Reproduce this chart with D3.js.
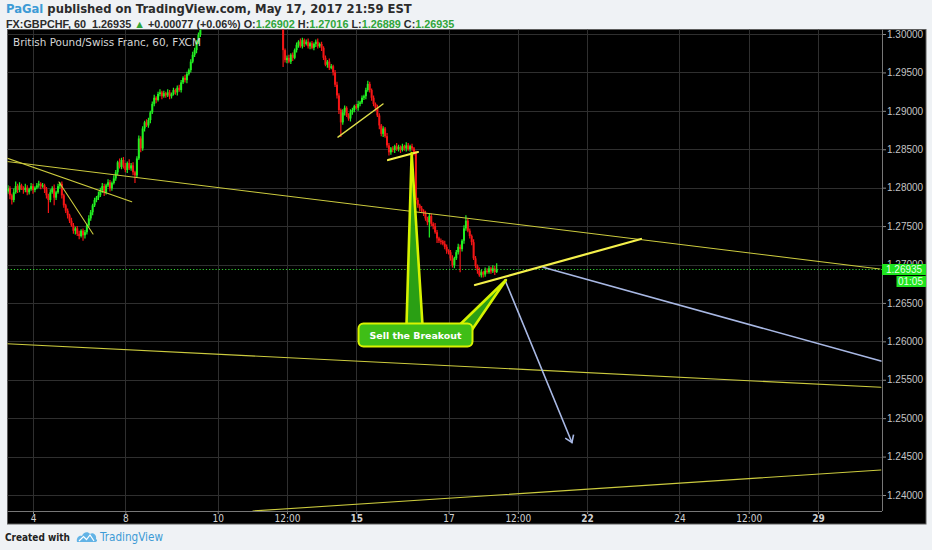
<!DOCTYPE html>
<html>
<head>
<meta charset="utf-8">
<script src="https://cdn.jsdelivr.net/npm/d3@7/dist/d3.min.js"></script>
<style>
html,body{margin:0;padding:0;background:#eff2f5;}
svg{display:block;}
text{white-space:pre;}
</style>
</head>
<body>
<svg id="chart" width="932" height="550"></svg>
<script>
// GBP/CHF, 60-minute bars. Hour 0 = May 4 00:00; only trading hours are counted (24 per weekday).
const firstHour = -13;
const firstOpen = 1.2795;
const closes = [
  1.2799,1.2790,1.2784,1.2794,1.2802,1.2797,1.2803,1.2799,1.2797,1.2800,
  1.2794,1.2798,1.2802,1.2797,1.2800,1.2803,1.2805,1.2802,1.2803,1.2798,
  1.2790,1.2784,1.2794,1.2799,1.2787,1.2794,1.2802,1.2805,1.2790,1.2777,
  1.2770,1.2764,1.2757,1.2751,1.2744,1.2747,1.2740,1.2737,1.2744,1.2738,
  1.2742,1.2751,1.2760,1.2768,1.2777,1.2784,1.2787,1.2790,1.2797,1.2802,
  1.2794,1.2803,1.2807,1.2799,1.2806,1.2812,1.2820,1.2833,1.2827,1.2836,
  1.2829,1.2823,1.2832,1.2825,1.2829,1.2820,1.2816,1.2838,1.2864,1.2851,
  1.2877,1.2885,1.2881,1.2888,1.2898,1.2909,1.2917,1.2914,1.2922,1.2924,
  1.2919,1.2923,1.2920,1.2924,1.2919,1.2922,1.2927,1.2924,1.2930,1.2927,
  1.2937,1.2943,1.2940,1.2948,1.2953,1.2964,1.2973,1.2979,1.2990,1.2999,
  1.3012,1.3018,1.3025,1.3031,1.3028,1.3036,1.3042,1.3047,1.3052,1.3058,
  1.3050,1.3055,1.3061,1.3066,1.3072,1.3069,1.3076,1.3073,1.3079,1.3082,
  1.3075,1.3070,1.3066,1.3072,1.3068,1.3061,1.3055,1.3062,1.3058,1.3050,
  1.3045,1.3052,1.3047,1.3040,1.3035,1.3030,1.3038,1.3032,1.3026,1.3021,
  1.3016,1.3012,1.3008,1.2979,1.2966,1.2969,1.2964,1.2973,1.2969,1.2979,
  1.2986,1.2990,1.2984,1.2992,1.2987,1.2990,1.2984,1.2988,1.2982,1.2987,
  1.2990,1.2984,1.2987,1.2982,1.2969,1.2960,1.2964,1.2956,1.2958,1.2950,
  1.2934,1.2920,1.2901,1.2885,1.2898,1.2904,1.2894,1.2890,1.2898,1.2901,
  1.2906,1.2904,1.2909,1.2911,1.2917,1.2919,1.2927,1.2935,1.2927,1.2917,
  1.2909,1.2904,1.2894,1.2881,1.2870,1.2877,1.2867,1.2855,1.2846,1.2851,
  1.2849,1.2854,1.2850,1.2853,1.2849,1.2854,1.2851,1.2855,1.2850,1.2854,
  1.2851,1.2846,1.2784,1.2777,1.2773,1.2770,1.2767,1.2760,1.2755,1.2763,
  1.2753,1.2750,1.2742,1.2734,1.2731,1.2730,1.2727,1.2723,1.2718,1.2716,
  1.2708,1.2699,1.2708,1.2716,1.2723,1.2720,1.2731,1.2747,1.2757,1.2744,
  1.2737,1.2729,1.2708,1.2698,1.2692,1.2686,1.2690,1.2687,1.2692,1.2690,
  1.2695,1.2691,1.2695,1.26902,1.26935
];
// wick lengths in pips, above and below each candle body
const wickUp = [
  4,3,2,5,6,3,4,2,3,5, 3,2,4,3,2,3,4,2,3,2, 3,2,4,3,5,2,3,2,3,2, 2,3,2,4,3,2,3,4,2,3,
  3,2,4,3,2,3,2,5,3,4, 3,2,4,3,2,4,3,2,5,3, 4,3,2,5,3,4,2,3,4,3, 3,2,4,3,2,3,4,2,3,4,
  2,3,2,4,3,2,3,2,3,4, 3,2,4,3,2,3,4,3,2,3, 3,4,2,3,4,3,2,3,4,2, 4,3,2,3,4,2,3,4,3,2,
  3,2,4,3,2,3,4,2,3,4, 2,3,4,3,2,4,3,2,3,4, 3,2,4,3,2,3,4,2,3,2, 3,2,4,3,2,3,4,2,3,2,
  3,4,2,3,2,3,2,4,3,2, 3,4,3,2,4,3,2,3,4,3, 2,3,4,2,3,2,3,4,3,2, 3,2,4,3,2,3,2,4,3,2,
  3,2,4,3,2,3,2,4,3,2, 3,2,2,3,2,3,2,3,2,4, 3,2,4,3,2,3,2,4,3,2, 3,4,2,3,4,3,2,4,7,3,
  3,2,4,3,2,4,3,2,4,3, 3,2,4,3,8.1
];
const wickDown = [
  3,5,6,3,2,4,3,2,5,3, 4,3,2,5,3,2,3,4,2,5, 4,17,3,2,10,3,2,3,4,3, 3,4,3,2,4,5,3,4,2,7,
  4,3,2,3,4,2,3,3,2,4, 5,3,2,4,3,2,3,4,2,3, 4,3,4,2,3,4,10,3,2,5, 3,4,2,3,4,2,3,4,2,3,
  4,2,3,2,4,3,2,3,4,2, 3,2,3,4,2,3,2,3,4,3, 3,2,4,3,2,3,4,2,3,4, 2,3,4,3,2,4,3,2,3,4,
  3,4,2,3,4,3,2,3,4,2, 4,3,2,3,4,2,3,4,3,2, 3,4,2,22,3,4,2,3,4,2, 3,4,2,3,4,2,3,4,2,3,
  4,3,2,4,3,2,4,3,2,4, 3,4,5,19,3,4,2,3,4,3, 3,2,4,3,2,3,4,2,3,4, 3,4,2,5,3,4,2,3,4,3,
  3,4,2,3,4,2,3,4,2,3, 3,4,5,3,4,3,4,3,4,20, 3,4,2,6,3,4,2,3,4,3, 3,3,4,2,3,30,3,4,3,2,
  3,4,2,3,4,2,3,4,3,2, 2,3,2,4,1.3
];

const priceTicks = [1.24,1.245,1.25,1.255,1.26,1.265,1.27,1.275,1.28,1.285,1.29,1.295,1.30];
const timeTickLabels = ["4","8","10","12:00","15","17","12:00","22","24","12:00","29"];
const timeTickHours  = [0,48,96,132,168,216,252,288,336,372,408];
const weekStartLabels = ["15","22","29"];
const lastPrice = 1.26935;
const barCountdown = "01:05";

// drawn studies: [hourA, priceA, hourB, priceB]
const thinTrendLines = [
  [-17.15,1.28351, 440.2,1.26941],
  [-13.7,1.28386, 51.3,1.27817],
  [13.5,1.28074, 31.2,1.27397],
  [-17.15,1.25974, 440.7,1.25402],
  [114.3,1.23792, 440.7,1.24325]
];
const mediumTrendLines = [[158.5,1.28659, 181.9,1.29089]];
const boldTrendLines = [
  [184.5,1.28360, 200.1,1.28464],
  [229.7,1.26733, 316.0,1.27332]
];
const projectionLines  = [[265.1,1.26964, 440.7,1.25744]];
const projectionArrows = [[245.3,1.26798, 280.1,1.24683]];
const calloutText = "Sell the Breakout";
const calloutAnchor = [198.8, 1.26082];
const calloutTargets = [[196.8,1.28451],[245.8,1.26798]];

const headerLine1 = [["PaGal","#3d9bd6"],[" published on TradingView.com, May 17, 2017 21:59 EST","#2b2b2b"]];
const headerLine2 = [["FX:GBPCHF, 60  1.26935 ","#2b2b2b"],["\u25B2","#2fa53a"],[" +0.00077 (+0.06%) O:","#2b2b2b"],["1.26902","#2fa53a"],
  [" H:","#2b2b2b"],["1.27016","#2fa53a"],[" L:","#2b2b2b"],["1.26889","#2fa53a"],[" C:","#2b2b2b"],["1.26935","#2fa53a"]];
const legendText = "British Pound/Swiss Franc, 60, FXCM";

// ---------------------------------------------------------------
const svg = d3.select("#chart");
const W = 932, H = 550;
const plot = {left:7.5, top:29.5, right:882, bottom:511};
const x = d3.scaleLinear().domain([0,408]).range([33,818]);
const y = d3.scaleLinear().domain([1.24,1.30]).range([495,34]);
const SANS = "'Liberation Sans', Arial, sans-serif";
const NARROW = "'Liberation Sans Narrow', 'DejaVu Sans Condensed', 'Liberation Sans', sans-serif";
const WIDE = "'DejaVu Sans', Verdana, sans-serif";

function fit(t, w){
  const len = t.node().getComputedTextLength();
  const fs = parseFloat(t.attr("font-size"));
  t.attr("font-size", (fs*w/len).toFixed(2));
}

svg.append("rect").attr("width",W).attr("height",H).attr("fill","#eff2f5");
svg.append("rect").attr("x",7.5).attr("y",29.5).attr("width",918.5).attr("height",494.5)
  .attr("fill","#000").attr("stroke","#5c5c5c");

svg.append("defs").append("clipPath").attr("id","plotClip").append("rect")
  .attr("x",plot.left).attr("y",plot.top).attr("width",plot.right-plot.left).attr("height",plot.bottom-plot.top);

// grid
const grid = svg.append("g").attr("clip-path","url(#plotClip)");
grid.selectAll("line.gh").data(priceTicks).join("line").attr("class","gh")
  .attr("x1",plot.left).attr("x2",plot.right)
  .attr("y1",d=>Math.round(y(d))+0.5).attr("y2",d=>Math.round(y(d))+0.5)
  .attr("stroke","#2f2f2f");
grid.selectAll("line.gv").data(timeTickHours).join("line").attr("class","gv")
  .attr("y1",plot.top).attr("y2",plot.bottom)
  .attr("x1",d=>Math.round(x(d))+0.5).attr("x2",d=>Math.round(x(d))+0.5)
  .attr("stroke","#2f2f2f");

// axes
const yAxis = svg.append("g").attr("transform",`translate(${plot.right},0)`)
  .call(d3.axisRight(y).tickValues(priceTicks).tickFormat(d3.format(".5f")).tickSize(4).tickPadding(1));
yAxis.select(".domain").remove();
yAxis.selectAll("line").attr("stroke","#8a8a8a");
yAxis.selectAll("text").attr("fill","#c4c4c4").attr("font-family",SANS).attr("font-size",10);

const xAxis = svg.append("g").attr("transform",`translate(0,${plot.bottom})`)
  .call(d3.axisBottom(x).tickValues(timeTickHours).tickFormat((d,i)=>timeTickLabels[i]).tickSize(3).tickPadding(1));
xAxis.select(".domain").remove();
xAxis.selectAll("line").attr("stroke","#8a8a8a");
xAxis.selectAll("text").attr("fill","#d2d2d2").attr("font-family",NARROW).attr("font-size",10)
  .attr("font-weight",(d,i)=>weekStartLabels.includes(timeTickLabels[i])?"bold":"normal");

// panel separators
svg.append("line").attr("x1",plot.right+0.5).attr("x2",plot.right+0.5).attr("y1",29.5).attr("y2",plot.bottom).attr("stroke","#777");
svg.append("line").attr("x1",7.5).attr("x2",plot.right).attr("y1",plot.bottom+0.5).attr("y2",plot.bottom+0.5).attr("stroke","#777");

// candles
const candles = closes.map((c,i)=>{
  const o = i===0 ? firstOpen : closes[i-1];
  return {hour:firstHour+i, open:o, close:c,
          high:Math.max(o,c)+wickUp[i]/1e4, low:Math.min(o,c)-wickDown[i]/1e4};
});
const up = "#22f022", down = "#f51616";
const cg = svg.append("g").attr("clip-path","url(#plotClip)");
cg.selectAll("line.wick").data(candles).join("line").attr("class","wick")
  .attr("x1",d=>x(d.hour)).attr("x2",d=>x(d.hour))
  .attr("y1",d=>y(d.high)).attr("y2",d=>y(d.low))
  .attr("stroke",d=>d.close>=d.open?up:down).attr("stroke-width",1.2);
cg.selectAll("rect.body").data(candles).join("rect").attr("class","body")
  .attr("x",d=>x(d.hour)-1).attr("width",2)
  .attr("y",d=>y(Math.max(d.open,d.close)))
  .attr("height",d=>Math.max(1.2,Math.abs(y(d.open)-y(d.close))))
  .attr("fill",d=>d.close>=d.open?up:down);

// last price line
cg.append("line").attr("x1",plot.left).attr("x2",plot.right)
  .attr("y1",y(lastPrice)).attr("y2",y(lastPrice))
  .attr("stroke","#34d234").attr("stroke-width",1).attr("stroke-dasharray","1.2,2");

// studies
const sg = svg.append("g").attr("clip-path","url(#plotClip)");
function segs(data, color, width){
  sg.selectAll(null).data(data).join("line")
    .attr("x1",d=>x(d[0])).attr("y1",d=>y(d[1]))
    .attr("x2",d=>x(d[2])).attr("y2",d=>y(d[3]))
    .attr("stroke",color).attr("stroke-width",width).attr("stroke-linecap","round");
}
segs(thinTrendLines,"#cccb3e",1.1);
segs(mediumTrendLines,"#dcdb48",1.5);
segs(boldTrendLines,"#f4f04a",2.2);
segs(projectionLines,"#a8b8e4",1.6);
segs(projectionArrows,"#a8b8e4",1.6);
projectionArrows.forEach(a=>{
  const x1=x(a[0]),y1=y(a[1]),x2=x(a[2]),y2=y(a[3]);
  const ang=Math.atan2(y1-y2,x1-x2), L=8, spread=0.6;
  const p = [[x2+L*Math.cos(ang+spread),y2+L*Math.sin(ang+spread)],[x2,y2],[x2+L*Math.cos(ang-spread),y2+L*Math.sin(ang-spread)]];
  sg.append("path").attr("d",d3.line()(p)).attr("fill","none").attr("stroke","#a8b8e4").attr("stroke-width",1.6);
});

// callout
const cx = x(calloutAnchor[0]), cy = y(calloutAnchor[1]);
const bw = 114, bh = 23;
const basesPx = [[[-9,-10],[7,-10]],[[44,-10],[55,-3]]];
calloutTargets.forEach((t,i)=>{
  const b = basesPx[i];
  const pts = [[cx+b[0][0],cy+b[0][1]],[x(t[0]),y(t[1])],[cx+b[1][0],cy+b[1][1]]];
  sg.append("path").attr("d",d3.line()(pts)+"Z")
    .attr("fill","#2a9f14").attr("stroke","#d6f200").attr("stroke-width",2.6).attr("stroke-linejoin","round");
});
sg.append("rect").attr("x",cx-bw/2).attr("y",cy-bh/2).attr("width",bw).attr("height",bh).attr("rx",5)
  .attr("fill","#3fbe17").attr("stroke","#d8f400").attr("stroke-width",2);
const ct = sg.append("text").attr("x",cx).attr("y",cy+4).attr("text-anchor","middle")
  .attr("font-family",WIDE).attr("font-weight","bold").attr("font-size",10).attr("fill","#ffffff").text(calloutText);
fit(ct, 92);

// price marker
const py = y(lastPrice);
svg.append("rect").attr("x",882).attr("y",py-5.5).attr("width",44).attr("height",11).attr("fill","#1fe41f");
svg.append("text").attr("x",886).attr("y",py+3.6).attr("font-family",SANS).attr("font-size",10)
  .attr("fill","#eaffea").text(d3.format(".5f")(lastPrice));
svg.append("rect").attr("x",896.5).attr("y",py+6.5).attr("width",29.5).attr("height",11).attr("fill","#1fe41f");
svg.append("text").attr("x",923).attr("y",py+15.6).attr("text-anchor","end").attr("font-family",SANS).attr("font-size",10)
  .attr("fill","#eaffea").text(barCountdown);

// legend
const lg = svg.append("text").attr("x",13).attr("y",46).attr("font-family",WIDE).attr("font-size",10)
  .attr("fill","#d6d6d6").text(legendText);
fit(lg, 188);

// header
function header(parts, yy, w, fam){
  const t = svg.append("text").attr("x",6).attr("y",yy).attr("font-family",fam).attr("font-weight","bold").attr("font-size",10);
  parts.forEach(p=>t.append("tspan").attr("fill",p[1]).text(p[0]));
  fit(t, w);
}
header(headerLine1, 13, 406, WIDE);
header(headerLine2, 27.5, 449, SANS);

// footer
const cw = svg.append("text").attr("x",5).attr("y",541).attr("font-family",NARROW).attr("font-weight","bold")
  .attr("font-size",11).attr("fill","#222").text("Created with");
fit(cw, 65);
svg.append("path").attr("d","M77,542 C76,538 79,535 82,536 C83,532 88,531 90,534 C93,532 97,535 96,539 C98,540 97,542 95,542 Z")
  .attr("fill","#62b3e6");
svg.append("path").attr("d","M79,541 L83.5,536.5 L86.5,539.5 L90,535 L94,541").attr("fill","none").attr("stroke","#fff").attr("stroke-width",1.2);
const tv = svg.append("text").attr("x",100).attr("y",541).attr("font-family",NARROW)
  .attr("font-size",11).attr("fill","#3d9bd6").text("TradingView");
fit(tv, 63);
</script>
</body>
</html>
